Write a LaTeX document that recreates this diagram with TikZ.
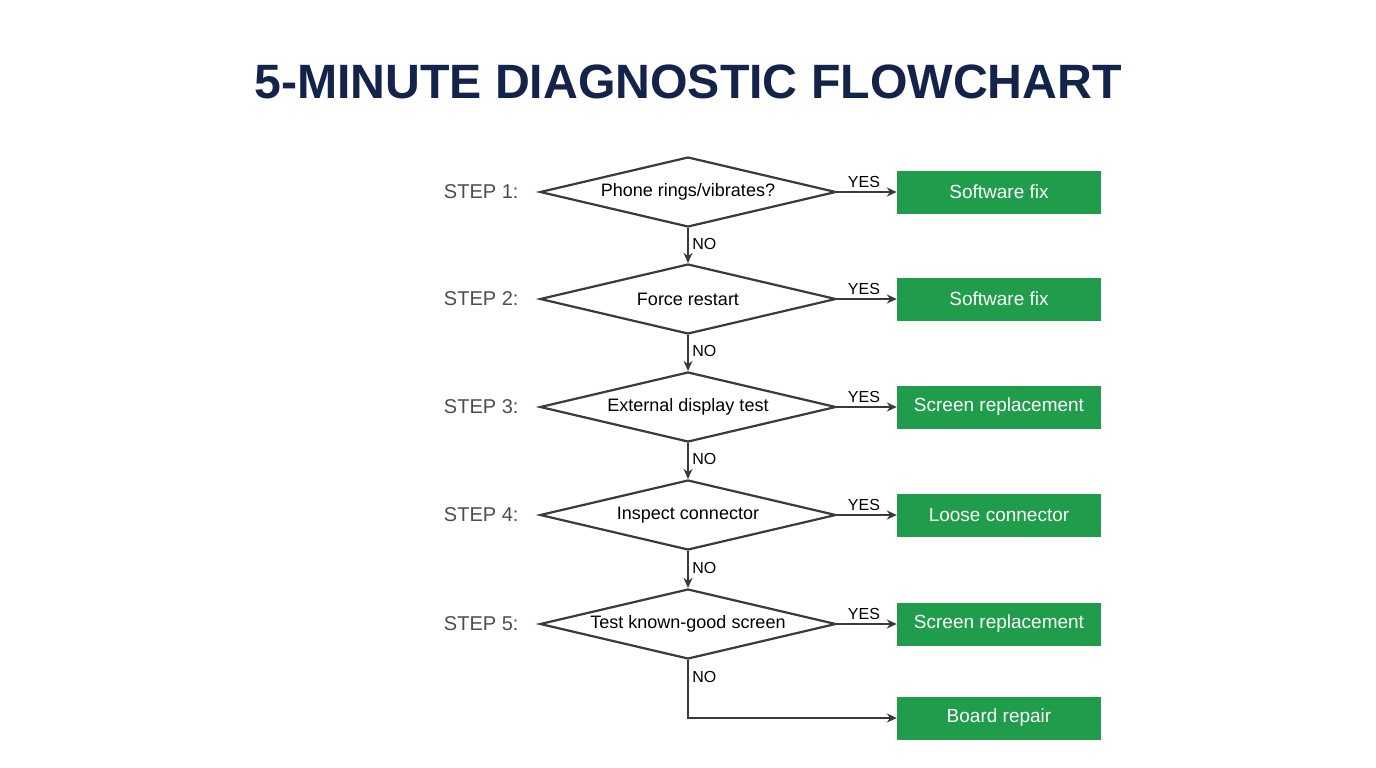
\documentclass[tikz,border=0pt]{standalone}
\usepackage{fontspec}
\setmainfont{Liberation Sans}
\usetikzlibrary{shapes.geometric,positioning,arrows.meta}
\definecolor{navy}{HTML}{13234A}
\definecolor{fixgreen}{HTML}{1F9D4B}
\definecolor{linegray}{HTML}{3A3A3A}
\tikzset{
  check/.style={diamond,draw=linegray,line width=2.2pt,aspect=4.2,inner sep=0pt,
    minimum width=296pt,minimum height=70pt,font=\fontsize{18}{21}\selectfont},
  fix/.style={fill=fixgreen,text=white,minimum width=204pt,minimum height=43pt,
    inner sep=0pt,font=\fontsize{19}{22}\selectfont},
  steplabel/.style={anchor=east,text=linegray!90,font=\fontsize{20}{23}\selectfont},
  flow/.style={draw=linegray,line width=2.2pt,-{Stealth[length=10pt,width=9pt]}},
  lbl/.style={font=\fontsize{16}{19}\selectfont,text=black}
}
\begin{document}
\begin{tikzpicture}[x=1pt,y=-1pt]
\useasboundingbox[fill=white] (0,0) rectangle (1376,768);

\node[font=\bfseries\fontsize{48.2}{53}\selectfont,text=navy] (title) at (688,82) {5-MINUTE DIAGNOSTIC FLOWCHART};

\node[check] (q1) at (688,192) {Phone rings/vibrates?};
\node[check] (q2) at (688,299) {Force restart};
\node[check] (q3) at (688,407) {External display test};
\node[check] (q4) at (688,515) {Inspect connector};
\node[check] (q5) at (688,624) {Test known-good screen};

\node[steplabel] (s1) at (522,192) {STEP 1:};
\node[steplabel] (s2) at (522,299) {STEP 2:};
\node[steplabel] (s3) at (522,407) {STEP 3:};
\node[steplabel] (s4) at (522,515) {STEP 4:};
\node[steplabel] (s5) at (522,624) {STEP 5:};

\node[fix] (f1) at (999,192) {Software fix};
\node[fix] (f2) at (999,299) {Software fix};
\node[fix] (f3) at (999,407) {Screen replacement};
\node[fix] (f4) at (999,515) {Loose connector};
\node[fix] (f5) at (999,624) {Screen replacement};
\node[fix] (f6) at (999,718) {Board repair};

\foreach \i in {1,...,5}
  \draw[flow] (q\i.east) -- node[lbl,above,pos=0.45] {YES} (f\i.west);
\foreach \i/\j in {1/2,2/3,3/4,4/5}
  \draw[flow] (q\i.south) -- node[lbl,right,pos=0.45] {NO} (q\j.north);
\draw[flow] (q5.south) -- node[lbl,right,pos=0.3] {NO} (q5.south |- f6.west) -- (f6.west);

\end{tikzpicture}
\end{document}
